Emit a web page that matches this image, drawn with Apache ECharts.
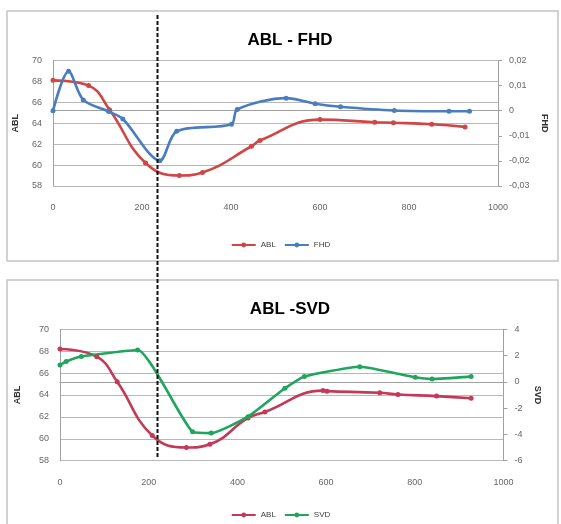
<!DOCTYPE html>
<html>
<head>
<meta charset="utf-8">
<script src="https://cdn.jsdelivr.net/npm/echarts@6/dist/echarts.min.js"></script>
<style>
html,body{margin:0;padding:0;background:#fff;}
#chart{width:561px;height:524px;}
</style>
</head>
<body>
<div id="chart"></div>
<script>
// ---- Data ----
const xTicks = [0, 200, 400, 600, 800, 1000];
// Top panel: ABL - FHD
const ablTopX = [0, 80, 127, 208, 284, 336, 446, 465, 600, 723, 765, 851, 926];
const ablTopY = [68.1, 67.6, 65.3, 60.2, 59.0, 59.3, 61.8, 62.35, 64.35, 64.1, 64.05, 63.9, 63.65];
const fhdX = [0, 35, 68, 125, 157, 240, 278, 401, 414, 524, 589, 646, 767, 890, 936];
const fhdY = [0.0, 0.0157, 0.0043, -0.0003, -0.0033, -0.0199, -0.0082, -0.0054, 0.0005, 0.005, 0.0028, 0.0016, 0.0001, -0.0002, -0.0002];
// Bottom panel: ABL - SVD
const ablBotX = [0, 83, 129, 208, 285, 338, 424, 462, 593, 602, 721, 762, 849, 927];
const ablBotY = [68.2, 67.5, 65.2, 60.3, 59.2, 59.5, 61.9, 62.45, 64.4, 64.35, 64.2, 64.05, 63.9, 63.7];
const svdX = [0, 14, 48, 175, 299, 341, 424, 507, 551, 676, 801, 839, 927];
const svdY = [1.29, 1.55, 1.93, 2.43, -3.8, -3.9, -2.65, -0.49, 0.4, 1.15, 0.35, 0.22, 0.4];

const zip = (xs, ys) => xs.map((x, i) => [x, ys[i]]);

const labelColor = '#666';
const axisLineColor = '#a0a0a0';
const gridColor = '#b8b8b8';
const font = 'Liberation Sans';
const comma = v => String(Math.round(v * 1000) / 1000).replace('.', ',');

function xAxis(gridIndex) {
  return {
    type: 'value', gridIndex, min: xTicks[0], max: xTicks[xTicks.length - 1], interval: xTicks[1] - xTicks[0],
    axisLine: {show: true, lineStyle: {color: axisLineColor}},
    axisTick: {show: false},
    splitLine: {show: false},
    axisLabel: {color: labelColor, fontSize: 9, fontFamily: font, margin: 17, formatter: v => String(v)}
  };
}
function leftY(gridIndex, gap) {
  return {
    type: 'value', gridIndex, position: 'left', min: 58, max: 70, interval: 2,
    name: 'ABL', nameLocation: 'middle', nameRotate: 90, nameGap: gap,
    nameTextStyle: {color: '#333', fontSize: 9, fontWeight: 'bold', fontFamily: font},
    axisLine: {show: true, lineStyle: {color: axisLineColor}},
    axisTick: {show: false},
    splitLine: {show: true, lineStyle: {color: gridColor, width: 1}},
    axisLabel: {color: labelColor, fontSize: 9, fontFamily: font, margin: 11}
  };
}
function rightY(gridIndex, name, min, max, interval, gap, fmt) {
  return {
    type: 'value', gridIndex, position: 'right', min, max, interval,
    alignTicks: false,
    name, nameLocation: 'middle', nameRotate: -90, nameGap: gap,
    nameTextStyle: {color: '#333', fontSize: 9, fontWeight: 'bold', fontFamily: font},
    axisLine: {show: true, lineStyle: {color: axisLineColor}},
    axisTick: {show: true, length: 4, lineStyle: {color: axisLineColor}},
    splitLine: {show: false},
    axisLabel: {color: labelColor, fontSize: 9, fontFamily: font, margin: 11, formatter: fmt}
  };
}
function line(name, data, xi, yi, color, smooth) {
  return {
    name, type: 'line', xAxisIndex: xi, yAxisIndex: yi, data, smooth,
    symbol: 'circle', symbolSize: 5, showSymbol: true,
    lineStyle: {color, width: 2.6},
    itemStyle: {color},
    emphasis: {disabled: true}
  };
}

const chart = echarts.init(document.getElementById('chart'), null, {renderer: 'canvas'});
const option = {
  animation: false,
  backgroundColor: '#fff',
  title: [
    {text: 'ABL - FHD', left: 285, top: 27, textAlign: 'center',
     textStyle: {fontSize: 17, fontWeight: 'bold', color: '#000', fontFamily: font}},
    {text: 'ABL -SVD', left: 285, top: 296, textAlign: 'center',
     textStyle: {fontSize: 17, fontWeight: 'bold', color: '#000', fontFamily: font}}
  ],
  legend: [
    {data: ['ABL', 'FHD'], left: 'center', top: 236, itemWidth: 24, itemHeight: 6, itemGap: 8,
     textStyle: {fontSize: 8, color: '#404040', fontFamily: font}},
    {data: ['ABL ', 'SVD'], left: 'center', top: 506, itemWidth: 24, itemHeight: 6, itemGap: 8,
     textStyle: {fontSize: 8, color: '#404040', fontFamily: font},
     formatter: n => n.trim()}
  ],
  grid: [
    {left: 53, top: 60.5, width: 445, height: 125.5},
    {left: 60, top: 329.3, width: 443.5, height: 131.4}
  ],
  xAxis: [xAxis(0), xAxis(1)],
  yAxis: [
    leftY(0, 33),
    rightY(0, 'FHD', -0.03, 0.02, 0.01, 41, comma),
    leftY(1, 38),
    rightY(1, 'SVD', -6, 4, 2, 28, v => String(v))
  ],
  series: [
    line('ABL', zip(ablTopX, ablTopY), 0, 0, '#CF4646', 0.45),
    line('FHD', zip(fhdX, fhdY), 0, 1, '#4A7DC0', 0.3),
    line('ABL ', zip(ablBotX, ablBotY), 1, 2, '#C33A58', 0.45),
    line('SVD', zip(svdX, svdY), 1, 3, '#1FA55C', 0.15)
  ],
  graphic: [
    {type: 'rect', shape: {x: 7, y: 11, width: 551, height: 250},
     style: {fill: 'none', stroke: '#c4c4c4', lineWidth: 1.5}, z: -1},
    {type: 'rect', shape: {x: 7, y: 280, width: 551, height: 260},
     style: {fill: 'none', stroke: '#c4c4c4', lineWidth: 1.5}, z: -1},
    {type: 'line', shape: {x1: 157.5, y1: 15, x2: 157.5, y2: 458},
     style: {stroke: '#111', lineWidth: 2, lineDash: [4, 2]}, z: 100}
  ]
};
chart.setOption(option);
</script>
</body>
</html>
